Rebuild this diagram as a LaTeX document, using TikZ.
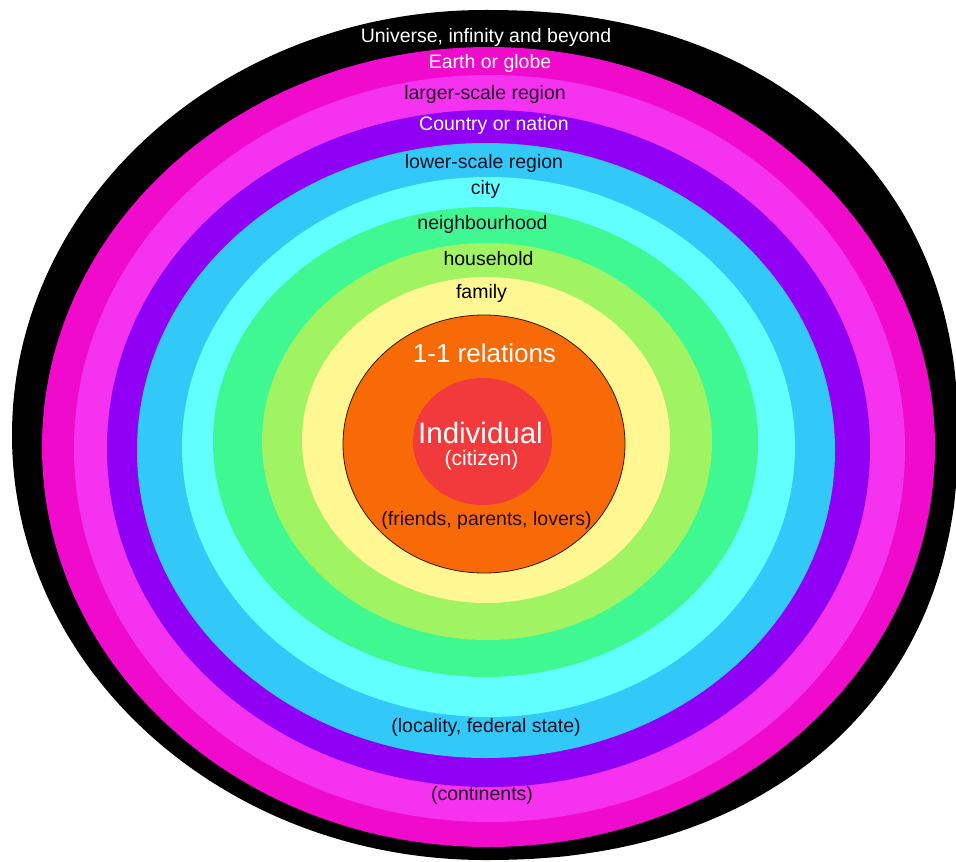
\documentclass[tikz,border=0pt]{standalone}
\usepackage{fontspec}
\setmainfont{Liberation Sans}
\begin{document}
\begin{tikzpicture}[x=1pt,y=-1pt,
  lbl/.style={inner sep=0pt, font=\fontsize{19.5}{22}\selectfont, text=dark},
  wlbl/.style={lbl, text=white}]
\definecolor{cblack}{HTML}{000000}
\definecolor{cmagenta}{HTML}{F00ACC}
\definecolor{cpink}{HTML}{F532F0}
\definecolor{cpurple}{HTML}{9000F5}
\definecolor{cblue}{HTML}{32C8F8}
\definecolor{ccyan}{HTML}{62FFFF}
\definecolor{cgreen}{HTML}{40F892}
\definecolor{clgreen}{HTML}{A0F462}
\definecolor{cyellow}{HTML}{FFF892}
\definecolor{corange}{HTML}{F86A08}
\definecolor{cred}{HTML}{F23A3C}
\definecolor{dark}{HTML}{221022}
\useasboundingbox (0,0) rectangle (956,862);
\begin{scope}
\clip (0,0) rectangle (956,862);
% outer black shape: ellipse on the left, slightly squarer on the right
\fill[cblack] (485,10)
  -- plot[domain=89.9:0, samples=70, variable=\t]
     ({485+473*pow(cos(\t),0.909)}, {435-425*pow(max(sin(\t),0.0001),0.909)})
  -- plot[domain=0:89.9, samples=70, variable=\t]
     ({485+473*pow(cos(\t),0.909)}, {435+425*pow(max(sin(\t),0.0001),0.909)})
  -- (485,860) arc[start angle=270, end angle=90, x radius=473pt, y radius=425pt]
  -- cycle;
\fill[cmagenta] (488.5,447) ellipse [x radius=446.5pt, y radius=400pt];
\fill[cpink]    (489.5,448.5) ellipse [x radius=415.5pt, y radius=373.5pt];
\fill[cpurple]  (488.5,448.5) ellipse [x radius=381.5pt, y radius=338.5pt];
\fill[cblue]    (486,450.5) ellipse [x radius=349pt, y radius=307.5pt];
\fill[ccyan]    (488.5,447) ellipse [x radius=306.5pt, y radius=270pt];
\fill[cgreen]   (485.5,442) ellipse [x radius=272.5pt, y radius=235pt];
\fill[clgreen]  (487,441.5) ellipse [x radius=225pt, y radius=198.5pt];
\fill[cyellow]  (486,440)   ellipse [x radius=184pt, y radius=163pt];
\filldraw[fill=corange, draw=black!80!orange, line width=0.8pt] (484,444) ellipse [x radius=141pt, y radius=129pt];
\fill[cred]     (482.5,441.5) ellipse [x radius=69.5pt, y radius=63.5pt];
\end{scope}
\node[wlbl] (universe) at (486,37) {Universe, infinity and beyond};
\node[wlbl] (earth) at (490,63) {Earth or globe};
\node[lbl] (larger) at (485,94) {larger-scale region};
\node[wlbl] (country) at (494,125) {Country or nation};
\node[lbl] (lower) at (484,163) {lower-scale region};
\node[lbl] (city) at (485.5,189) {city};
\node[lbl] (neigh) at (482.5,224) {neighbourhood};
\node[lbl, text=black] (house) at (488.5,259) {household};
\node[lbl, text=black] (family) at (481.5,293) {family};
\node[wlbl, font=\fontsize{26}{30}\selectfont] (rel) at (484.5,353) {1-1 relations};
\node[wlbl, font=\fontsize{29.5}{33}\selectfont] (indiv) at (480.5,433) {Individual};
\node[wlbl, font=\fontsize{21}{24}\selectfont] (citizen) at (481.5,460) {(citizen)};
\node[lbl] (friends) at (486.5,520) {(friends, parents, lovers)};
\node[lbl] (locality) at (486,727) {(locality, federal state)};
\node[lbl] (cont) at (482,795) {(continents)};
\end{tikzpicture}
\end{document}
